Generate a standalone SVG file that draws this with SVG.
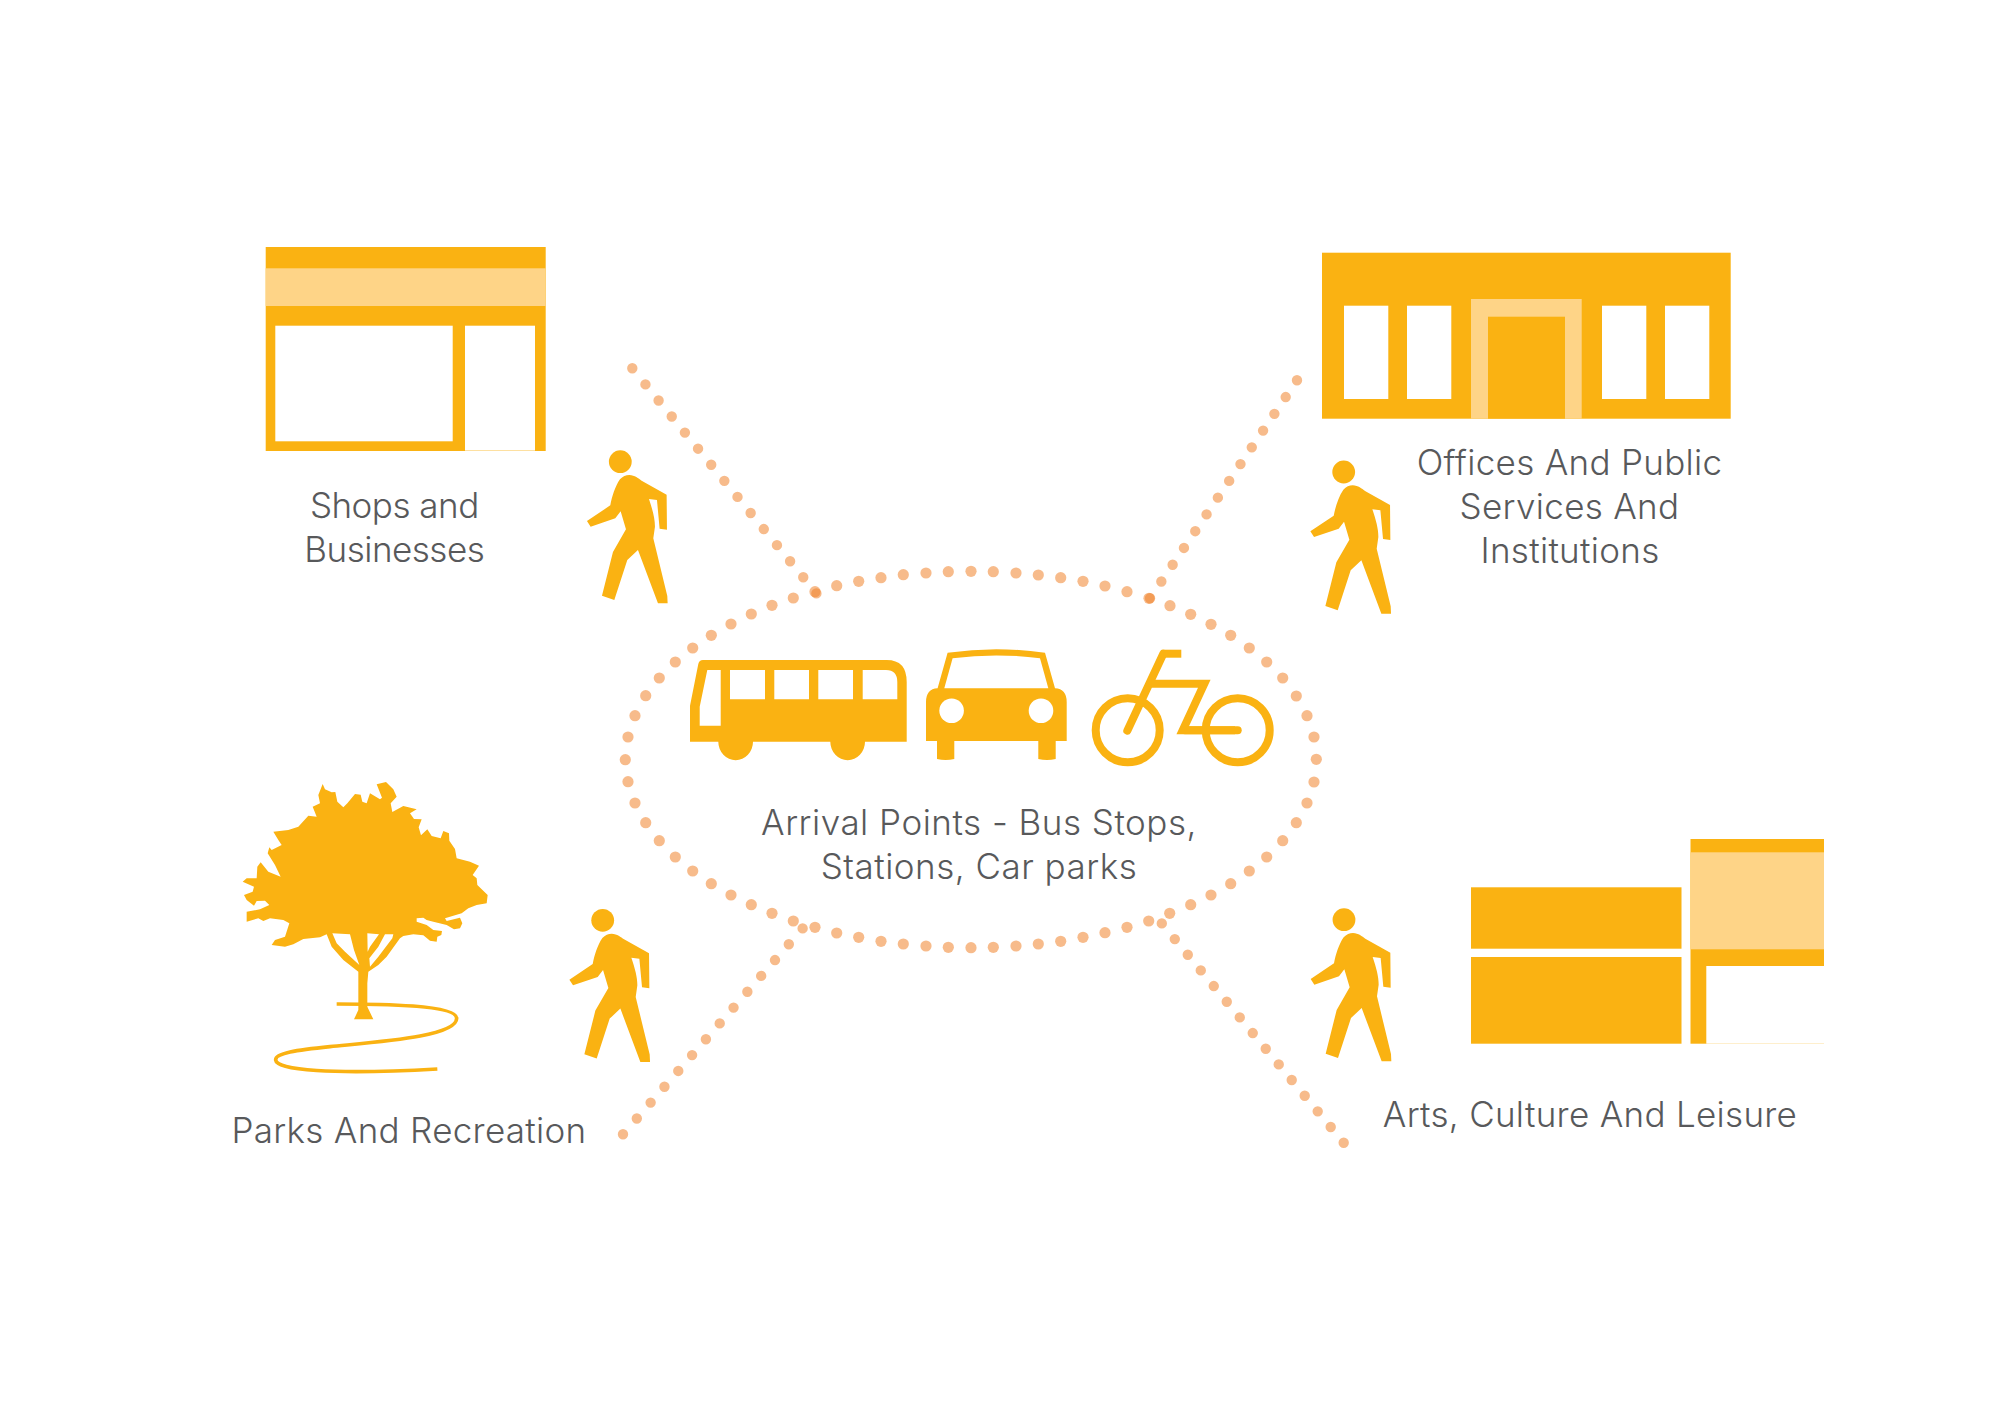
<svg xmlns="http://www.w3.org/2000/svg" width="2000" height="1424" viewBox="0 0 2000 1424">
<style>
.y{fill:#fab212}.l{fill:#fed487}.w{fill:#fff}
.t{font-family:"Inter","Liberation Sans",sans-serif;font-weight:300;font-size:35px;letter-spacing:.3px;fill:#58595b;text-anchor:middle}
.a{letter-spacing:.5px}
.s{letter-spacing:-.5px}
.c{fill:#f08228;fill-opacity:.54}
.dl{fill:none;stroke:#f08228;stroke-opacity:.54;stroke-width:10.4;stroke-linecap:round}
.b{fill:none;stroke:#fab212;stroke-width:8}
</style>
<defs>
<g id="walker">
<circle class="y" cx="0" cy="0" r="11.4"/>
<path class="y" transform="scale(.3333) translate(-151,-335)" d="M178,375C195,376 205,385 215,392L290,434L291,539L269,536L261,450L237,447C248,480 255,505 255,530L250,565L292,738L293,760L264,760L204,600L172,630L133,750L96,737L129,606L168,538L152,484L136,505L62,530L51,513L121,466C126,440 135,410 150,388C158,379 168,375 178,375Z"/>
</g>
</defs>
<rect width="2000" height="1424" fill="#fff"/>
<g id="connectors">
<line class="dl" x1="632.3" y1="368.3" x2="816.5" y2="593.5" stroke-dasharray="0 20.77"/>
<line class="dl" x1="1297" y1="380.3" x2="1150" y2="598.3" stroke-dasharray="0 20.22"/>
<line class="dl" x1="623" y1="1134.3" x2="802.7" y2="928.3" stroke-dasharray="0 21.02"/>
<line class="dl" x1="1343.7" y1="1142.7" x2="1161.7" y2="923.3" stroke-dasharray="0 20.35"/>
<g id="arrival-ring">
<circle class="c" cx="628" cy="781.7" r="5.6"/><circle class="c" cx="625.3" cy="759.7" r="5.6"/><circle class="c" cx="628" cy="737" r="5.6"/><circle class="c" cx="635" cy="715.7" r="5.6"/><circle class="c" cx="645.7" cy="695.7" r="5.6"/><circle class="c" cx="659.3" cy="678" r="5.6"/><circle class="c" cx="675.3" cy="662" r="5.6"/><circle class="c" cx="692.7" cy="648" r="5.6"/><circle class="c" cx="711.3" cy="635.3" r="5.6"/><circle class="c" cx="731" cy="624" r="5.6"/><circle class="c" cx="751.3" cy="614" r="5.6"/><circle class="c" cx="772" cy="605.3" r="5.6"/><circle class="c" cx="793.3" cy="598" r="5.6"/><circle class="c" cx="815" cy="591.7" r="5.6"/><circle class="c" cx="836.7" cy="585.7" r="5.6"/><circle class="c" cx="858.7" cy="581.3" r="5.6"/><circle class="c" cx="881" cy="577.7" r="5.6"/><circle class="c" cx="903.3" cy="574.7" r="5.6"/><circle class="c" cx="926" cy="573" r="5.6"/><circle class="c" cx="948.3" cy="571.7" r="5.6"/><circle class="c" cx="971" cy="571.3" r="5.6"/><circle class="c" cx="993.3" cy="571.7" r="5.6"/><circle class="c" cx="1016" cy="573" r="5.6"/><circle class="c" cx="1038.3" cy="575" r="5.6"/><circle class="c" cx="1060.7" cy="577.7" r="5.6"/><circle class="c" cx="1083" cy="581.3" r="5.6"/><circle class="c" cx="1105" cy="586" r="5.6"/><circle class="c" cx="1127" cy="591.7" r="5.6"/><circle class="c" cx="1149" cy="598.3" r="5.6"/><circle class="c" cx="1170" cy="605.7" r="5.6"/><circle class="c" cx="1190.7" cy="614.3" r="5.6"/><circle class="c" cx="1211" cy="624.3" r="5.6"/><circle class="c" cx="1230.7" cy="635.3" r="5.6"/><circle class="c" cx="1249.3" cy="648" r="5.6"/><circle class="c" cx="1266.7" cy="662" r="5.6"/><circle class="c" cx="1282.7" cy="678" r="5.6"/><circle class="c" cx="1296.3" cy="696" r="5.6"/><circle class="c" cx="1307" cy="715.7" r="5.6"/><circle class="c" cx="1314" cy="737" r="5.6"/><circle class="c" cx="1316.3" cy="759.3" r="5.6"/><circle class="c" cx="1314" cy="782" r="5.6"/><circle class="c" cx="1307" cy="803" r="5.6"/><circle class="c" cx="1296.3" cy="822.7" r="5.6"/><circle class="c" cx="1282.7" cy="840.7" r="5.6"/><circle class="c" cx="1266.7" cy="857" r="5.6"/><circle class="c" cx="1249.3" cy="871" r="5.6"/><circle class="c" cx="1230.7" cy="883.7" r="5.6"/><circle class="c" cx="1211" cy="895" r="5.6"/><circle class="c" cx="1190.7" cy="904.7" r="5.6"/><circle class="c" cx="1169.7" cy="913.3" r="5.6"/><circle class="c" cx="1148.7" cy="921" r="5.6"/><circle class="c" cx="1127" cy="927.3" r="5.6"/><circle class="c" cx="1105" cy="932.7" r="5.6"/><circle class="c" cx="1083" cy="937.3" r="5.6"/><circle class="c" cx="1060.7" cy="941.3" r="5.6"/><circle class="c" cx="1038.3" cy="944" r="5.6"/><circle class="c" cx="1016" cy="946" r="5.6"/><circle class="c" cx="993.3" cy="947.3" r="5.6"/><circle class="c" cx="971" cy="947.7" r="5.6"/><circle class="c" cx="948.3" cy="947.3" r="5.6"/><circle class="c" cx="926" cy="946" r="5.6"/><circle class="c" cx="903.3" cy="944" r="5.6"/><circle class="c" cx="881" cy="941.3" r="5.6"/><circle class="c" cx="858.7" cy="937.3" r="5.6"/><circle class="c" cx="836.7" cy="933" r="5.6"/><circle class="c" cx="815" cy="927.3" r="5.6"/><circle class="c" cx="793.3" cy="921" r="5.6"/><circle class="c" cx="772" cy="913.3" r="5.6"/><circle class="c" cx="751.3" cy="904.7" r="5.6"/><circle class="c" cx="731" cy="895" r="5.6"/><circle class="c" cx="711.3" cy="883.7" r="5.6"/><circle class="c" cx="692.7" cy="871" r="5.6"/><circle class="c" cx="675.3" cy="857" r="5.6"/><circle class="c" cx="659.3" cy="840.7" r="5.6"/><circle class="c" cx="645.7" cy="822.7" r="5.6"/><circle class="c" cx="635" cy="803" r="5.6"/>
</g>
</g>
<g id="shops">
<rect class="y" x="265.7" y="247" width="280" height="204"/>
<rect class="l" x="265.7" y="268.3" width="280" height="37.7"/>
<rect class="w" x="275.3" y="325.7" width="177.4" height="115.6"/>
<rect class="w" x="465" y="325.7" width="70" height="124.9"/>
<text class="t s" x="394.3" y="518">Shops and</text>
<text class="t s" x="394.3" y="562.2">Businesses</text>
<use href="#walker" x="620.3" y="461.7"/>
</g>
<g id="offices">
<rect class="y" x="1322" y="252.7" width="408.7" height="166"/>
<rect class="w" x="1344" y="305.7" width="44.3" height="93.3"/>
<rect class="w" x="1407" y="305.7" width="44.3" height="93.3"/>
<rect class="w" x="1602" y="305.7" width="44.3" height="93.3"/>
<rect class="w" x="1665" y="305.7" width="44.3" height="93.3"/>
<rect class="l" x="1471" y="299" width="110.7" height="119.7"/>
<rect class="y" x="1488" y="316.7" width="77" height="102"/>
<text class="t" x="1569.5" y="474.8">Offices And Public</text>
<text class="t" x="1569.5" y="518.8">Services And</text>
<text class="t" x="1570" y="563">Institutions</text>
<use href="#walker" x="1343.7" y="472"/>
</g>
<g id="parks">
<g transform="translate(230,750) scale(.33333)">
<path class="y" fill-rule="evenodd" d="M278,102L285,118L305,127L316,126L322,155L340,172L352,160L375,132L392,134L397,155L410,160L420,130L450,148L456,143L440,103L468,96L490,118L500,140L482,160L487,186L520,168L560,178L540,190L552,207L575,208L566,232L573,256L592,238L605,258L632,265L640,243L657,250L658,272L675,297L680,325L720,335L747,347L728,375L740,385L742,405L773,435L770,460L740,465L715,475L695,490L645,505L650,513L690,503L697,520L690,535L672,538L650,525L610,515L590,510L580,503L560,505L560,515L590,525L610,540L636,543L634,555L622,560L620,575L600,572L580,556L550,553L520,558L510,565L470,620L445,645L415,665L412,700L412,770L430,808L372,808L385,780L385,665L340,630L305,590L290,553L270,562L220,567L190,583L165,590L125,585L135,570L165,560L178,520L160,510L120,505L100,513L85,505L50,515L50,485L90,478L118,465L105,452L80,453L72,467L50,450L42,435L68,425L72,410L38,395L50,385L80,385L82,350L92,337L115,365L152,380L135,345L113,310L118,292L125,300L155,285L145,270L130,245L175,240L205,230L235,197L260,200L248,170L270,160L265,135ZM307,550L360,553L372,600L388,645L345,605L320,580ZM412,550L447,553L420,590L413,605ZM465,553L490,553L487,565L445,620L420,650L418,625L445,590Z"/>
<path fill="none" stroke="#fab212" stroke-width="11" d="M320,762C450,762 680,765 680,805C680,860 450,875 300,890C200,900 135,910 137,930C140,960 300,975 622,957"/>
</g>
<text class="t" x="409" y="1143">Parks And Recreation</text>
<use href="#walker" x="602.7" y="920.3"/>
</g>
<g id="arts">
<rect class="y" x="1471" y="887.3" width="210.5" height="61.4"/>
<rect class="y" x="1471" y="957" width="210.5" height="86.7"/>
<rect class="y" x="1690.5" y="839" width="133.5" height="204.7"/>
<rect class="l" x="1690.5" y="852.3" width="133.5" height="97"/>
<rect class="w" x="1706.3" y="966" width="117.7" height="77.7"/>
<text class="t" x="1590" y="1127.2">Arts, Culture And Leisure</text>
<use href="#walker" x="1344" y="919.7"/>
</g>
<g id="arrival">
<g id="bus">
<path class="y" d="M690,741.7V705.7L698.3,664Q699.2,660 703,660H886.7Q906.7,660 906.7,682V741.7H865A17.3,18.5 0 0 1 830.3,741.7H753A17.3,18.5 0 0 1 718.3,741.7Z"/>
<path class="w" d="M707.3,670H720.7V725.7H699.7V706.7ZM730,670H765V699.3H730ZM774.3,670H809V699.3H774.3ZM818.3,670H853V699.3H818.3ZM862.7,670H886Q897.3,670 897.3,682V699.3H862.7Z"/>
</g>
<g id="car">
<path class="y" d="M947.6,652.7Q996.3,645.7 1045,652.7L1055,688.3Q1066.7,689 1066.7,702V741H1055.7V759Q1047,761 1038.3,759V741H954.3V759Q945.6,761 937,759V741H926V702Q926,689 937.6,688.3Z"/>
<path class="w" d="M952.6,658.3Q996.3,652.5 1040,658.3L1048.3,688.3H944.3Z"/>
<circle class="w" cx="951.6" cy="710.7" r="12.3"/>
<circle class="w" cx="1041" cy="710.7" r="12.3"/>
</g>
<g id="bike">
<circle class="b" cx="1127.7" cy="730.3" r="32" stroke-width="7.5"/>
<circle class="b" cx="1237.7" cy="730.3" r="32" stroke-width="7.5"/>
<path class="b" stroke-linecap="round" d="M1127.3,730.7L1163.3,653.7"/>
<path class="b" d="M1163.3,653.7H1181.3"/>
<path class="b" d="M1151.7,683.7H1204.3L1182.7,730.3H1235"/>
<path class="b" stroke-linecap="round" d="M1185,730.3H1237.7"/>
</g>
<text class="t a" x="979" y="834.5">Arrival Points - Bus Stops,</text>
<text class="t a" x="979" y="878.5">Stations, Car parks</text>
</g>
</svg>
